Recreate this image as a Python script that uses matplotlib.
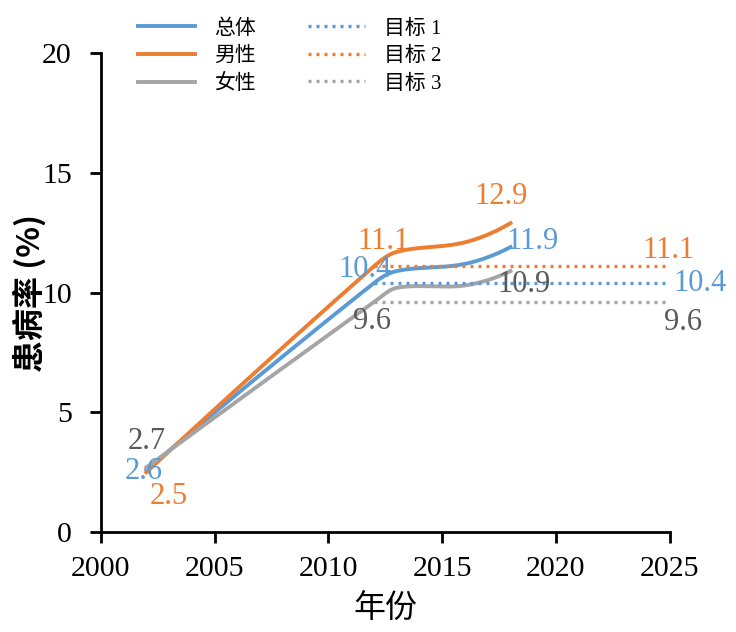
import numpy as np
import matplotlib
matplotlib.use("Agg")
import matplotlib.pyplot as plt

plt.rcParams['font.family'] = ['Liberation Serif', 'Noto Sans CJK SC', 'DejaVu Sans']

years = [2002, 2012, 2013, 2016, 2018]
zongti = [2.6, 10.4, 10.9, 11.2, 11.9]
nanxing = [2.5, 11.1, 11.7, 12.1, 12.9]
nvxing = [2.7, 9.6, 10.2, 10.3, 10.9]

target_years = [2012, 2025]
mubiao1 = [10.4, 10.4]
mubiao2 = [11.1, 11.1]
mubiao3 = [9.6, 9.6]

c_blue = '#5B9BD5'
c_orange = '#ED7D31'
c_gray = '#A5A5A5'
c_gray_txt = '#595959'


def smooth(xs, ys, n=60):
    # cubic hermite, catmull-rom slopes, free-ish ends
    xs = np.asarray(xs, float)
    ys = np.asarray(ys, float)
    sec = np.diff(ys) / np.diff(xs)
    m = np.zeros(len(xs))
    m[1:-1] = (ys[2:] - ys[:-2]) / (xs[2:] - xs[:-2])
    m[0] = 2 * sec[0] - m[1]
    m[-1] = 2 * sec[-1] - m[-2]
    outx, outy = [], []
    for i in range(len(xs) - 1):
        h = xs[i + 1] - xs[i]
        t = np.linspace(0, 1, n)
        h00 = 2 * t**3 - 3 * t**2 + 1
        h10 = t**3 - 2 * t**2 + t
        h01 = -2 * t**3 + 3 * t**2
        h11 = t**3 - t**2
        outx.append(xs[i] + t * h)
        outy.append(h00 * ys[i] + h10 * h * m[i] + h01 * ys[i + 1] + h11 * h * m[i + 1])
    return np.concatenate(outx), np.concatenate(outy)


fig = plt.figure(figsize=(7.36, 6.32), dpi=100)
ax = fig.add_axes([0.137, 0.158, 0.773, 0.758])

x, y = smooth(years, zongti)
ax.plot(x, y, color=c_blue, lw=2.8, label='总体')
x, y = smooth(years, nanxing)
ax.plot(x, y, color=c_orange, lw=2.8, label='男性')
x, y = smooth(years, nvxing)
ax.plot(x, y, color=c_gray, lw=2.8, label='女性')
dots = (0, (0.9, 1.5))
ax.plot(target_years, mubiao1, color=c_blue, lw=2.4, ls=dots, label='目标 1')
ax.plot(target_years, mubiao2, color=c_orange, lw=2.4, ls=dots, label='目标 2')
ax.plot(target_years, mubiao3, color=c_gray, lw=2.4, ls=dots, label='目标 3')

fs = 22
kw = dict(fontsize=fs, ha='center', va='center')
# data labels
ax.text(2002.0, 3.8, '2.7', color=c_gray_txt, **kw)
ax.text(2001.9, 2.55, '2.6', color=c_blue, **kw)
ax.text(2003.0, 1.5, '2.5', color=c_orange, **kw)
ax.text(2012.4, 12.15, '11.1', color=c_orange, **kw)
ax.text(2011.6, 10.95, '10.4', color=c_blue, **kw)
ax.text(2011.9, 8.8, '9.6', color=c_gray_txt, **kw)
ax.text(2017.6, 14.0, '12.9', color=c_orange, **kw)
ax.text(2018.95, 12.15, '11.9', color=c_blue, **kw)
ax.text(2018.6, 10.35, '10.9', color=c_gray_txt, **kw)
ax.text(2024.95, 11.75, '11.1', color=c_orange, **kw)
ax.text(2026.35, 10.38, '10.4', color=c_blue, **kw)
ax.text(2025.6, 8.75, '9.6', color=c_gray_txt, **kw)

ax.set_xlim(2000, 2025)
ax.set_ylim(0, 20)
ax.set_xticks([2000, 2005, 2010, 2015, 2020, 2025])
ax.set_yticks([0, 5, 10, 15, 20])
ax.tick_params(labelsize=21.5, width=2, length=8, direction='out')
ax.tick_params(axis='y', pad=13)
ax.tick_params(axis='x', pad=9)
for s in ['top', 'right']:
    ax.spines[s].set_visible(False)
for s in ['left', 'bottom']:
    ax.spines[s].set_linewidth(2)

ax.set_ylabel('患病率 (%)', fontsize=23, fontweight='bold', family='Noto Sans CJK SC')
ax.yaxis.set_label_coords(-0.095, 0.5)
ax.set_xlabel('年份', fontsize=23, family='Noto Sans CJK SC', labelpad=8)

ax.legend(loc='upper left', bbox_to_anchor=(138 / 736, 1 - 19 / 632), bbox_transform=fig.transFigure,
          ncol=2, frameon=False, fontsize=15, handlelength=2.75, columnspacing=2.5,
          labelspacing=0.38, handletextpad=0.9, borderpad=0, borderaxespad=0)

fig.savefig('out.png', dpi=100)
